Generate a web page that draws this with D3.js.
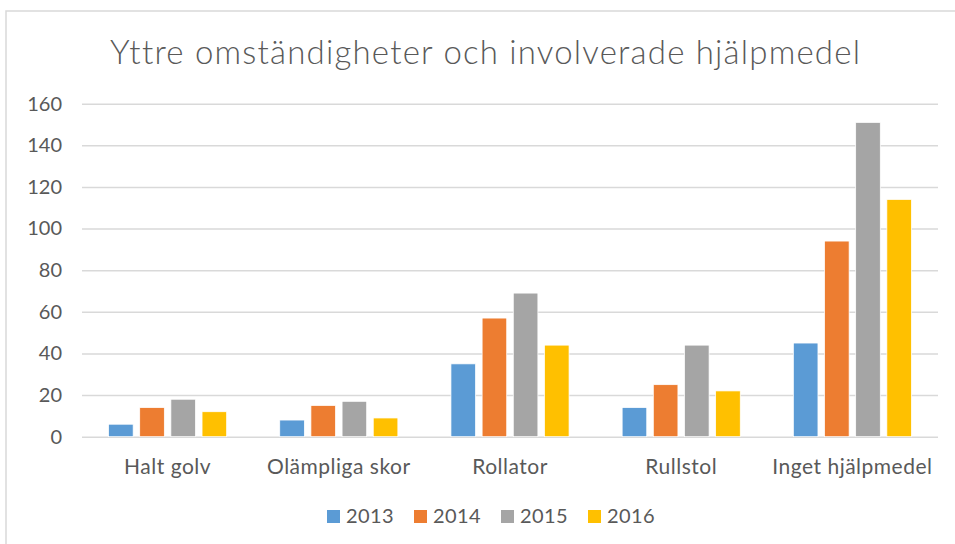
<!DOCTYPE html>
<html>
<head>
<meta charset="utf-8">
<script src="https://cdn.jsdelivr.net/npm/d3@7"></script>
<style>
  body { margin: 0; background: #fff; }
  text { font-family: Lato, "Open Sans", sans-serif; fill: #595959; }
</style>
</head>
<body>
<svg id="chart" width="955" height="544"></svg>
<script>
var title = "Yttre omständigheter och involverade hjälpmedel";
var categories = ["Halt golv", "Olämpliga skor", "Rollator", "Rullstol", "Inget hjälpmedel"];
var years = ["2013", "2014", "2015", "2016"];
var values2013 = [6, 8, 35, 14, 45];
var values2014 = [14, 15, 57, 25, 94];
var values2015 = [18, 17, 69, 44, 151];
var values2016 = [12, 9, 44, 22, 114];
var yTicks = [0, 20, 40, 60, 80, 100, 120, 140, 160];
var colors = ["#5B9BD5", "#ED7D31", "#A5A5A5", "#FFC000"];

var series = [values2013, values2014, values2015, values2016];

var svg = d3.select("#chart");

// chart area border (runs off the right and bottom edge)
svg.append("rect")
  .attr("x", 6).attr("y", 11)
  .attr("width", 980).attr("height", 560)
  .attr("fill", "#fff")
  .attr("stroke", "#D9D9D9")
  .attr("stroke-width", 1.5);

var plotLeft = 82, plotRight = 938, plotTop = 103.7, plotBottom = 436.7;

var y = d3.scaleLinear().domain([0, 160]).range([plotBottom, plotTop]);

var x0 = d3.scaleBand()
  .domain(categories)
  .range([plotLeft, plotRight])
  .paddingInner(0.31)
  .paddingOuter(0.155);

var x1 = d3.scaleBand()
  .domain(years)
  .range([0, x0.bandwidth()])
  .paddingInner(0.21);

// title
svg.append("text")
  .attr("x", 485.5)
  .attr("y", 64)
  .attr("text-anchor", "middle")
  .style("font-size", "33px")
  .style("font-weight", "300")
  .style("letter-spacing", "1.2px")
  .text(title);

// gridlines + y labels
var yAxis = svg.append("g")
  .attr("transform", "translate(" + plotLeft + ",0)")
  .call(d3.axisLeft(y).tickValues(yTicks).tickSize(-(plotRight - plotLeft)).tickPadding(20));

yAxis.select(".domain").remove();
yAxis.selectAll(".tick line").attr("stroke", "#D9D9D9").attr("stroke-width", 1.5);
yAxis.selectAll(".tick text")
  .style("font-size", "20px")
  .style("font-family", "Lato, sans-serif")
  .attr("fill", "#595959");

// bars
var groups = svg.append("g").selectAll("g")
  .data(categories)
  .enter().append("g")
  .attr("transform", function(d){ return "translate(" + x0(d) + ",0)"; });

groups.selectAll("rect")
  .data(function(d, i){
    return years.map(function(yr, j){ return {year: yr, value: series[j][i], idx: j}; });
  })
  .enter().append("rect")
  .attr("x", function(d){ return x1(d.year); })
  .attr("width", x1.bandwidth())
  .attr("y", function(d){ return y(d.value); })
  .attr("height", function(d){ return y(0) - y(d.value); })
  .attr("fill", function(d){ return colors[d.idx]; })
  .attr("stroke", "#fff")
  .attr("stroke-width", 0.75);

// category labels
var xAxis = svg.append("g")
  .attr("transform", "translate(0," + plotBottom + ")")
  .call(d3.axisBottom(x0).tickSize(0).tickPadding(22));
xAxis.select(".domain").remove();
xAxis.selectAll(".tick text")
  .style("font-size", "21px")
  .style("letter-spacing", "0.5px")
  .style("font-family", "Lato, sans-serif")
  .attr("fill", "#595959");

// legend
var legend = svg.append("g").attr("transform", "translate(327,0)");
var item = legend.selectAll("g")
  .data(years)
  .enter().append("g")
  .attr("transform", function(d, i){ return "translate(" + (i * 87) + ",0)"; });
item.append("rect")
  .attr("x", 0).attr("y", 510)
  .attr("width", 13).attr("height", 13)
  .attr("fill", function(d, i){ return colors[i]; });
item.append("text")
  .attr("x", 19).attr("y", 523)
  .style("font-size", "20px")
  .style("letter-spacing", "0.4px")
  .text(function(d){ return d; });
</script>
</body>
</html>
